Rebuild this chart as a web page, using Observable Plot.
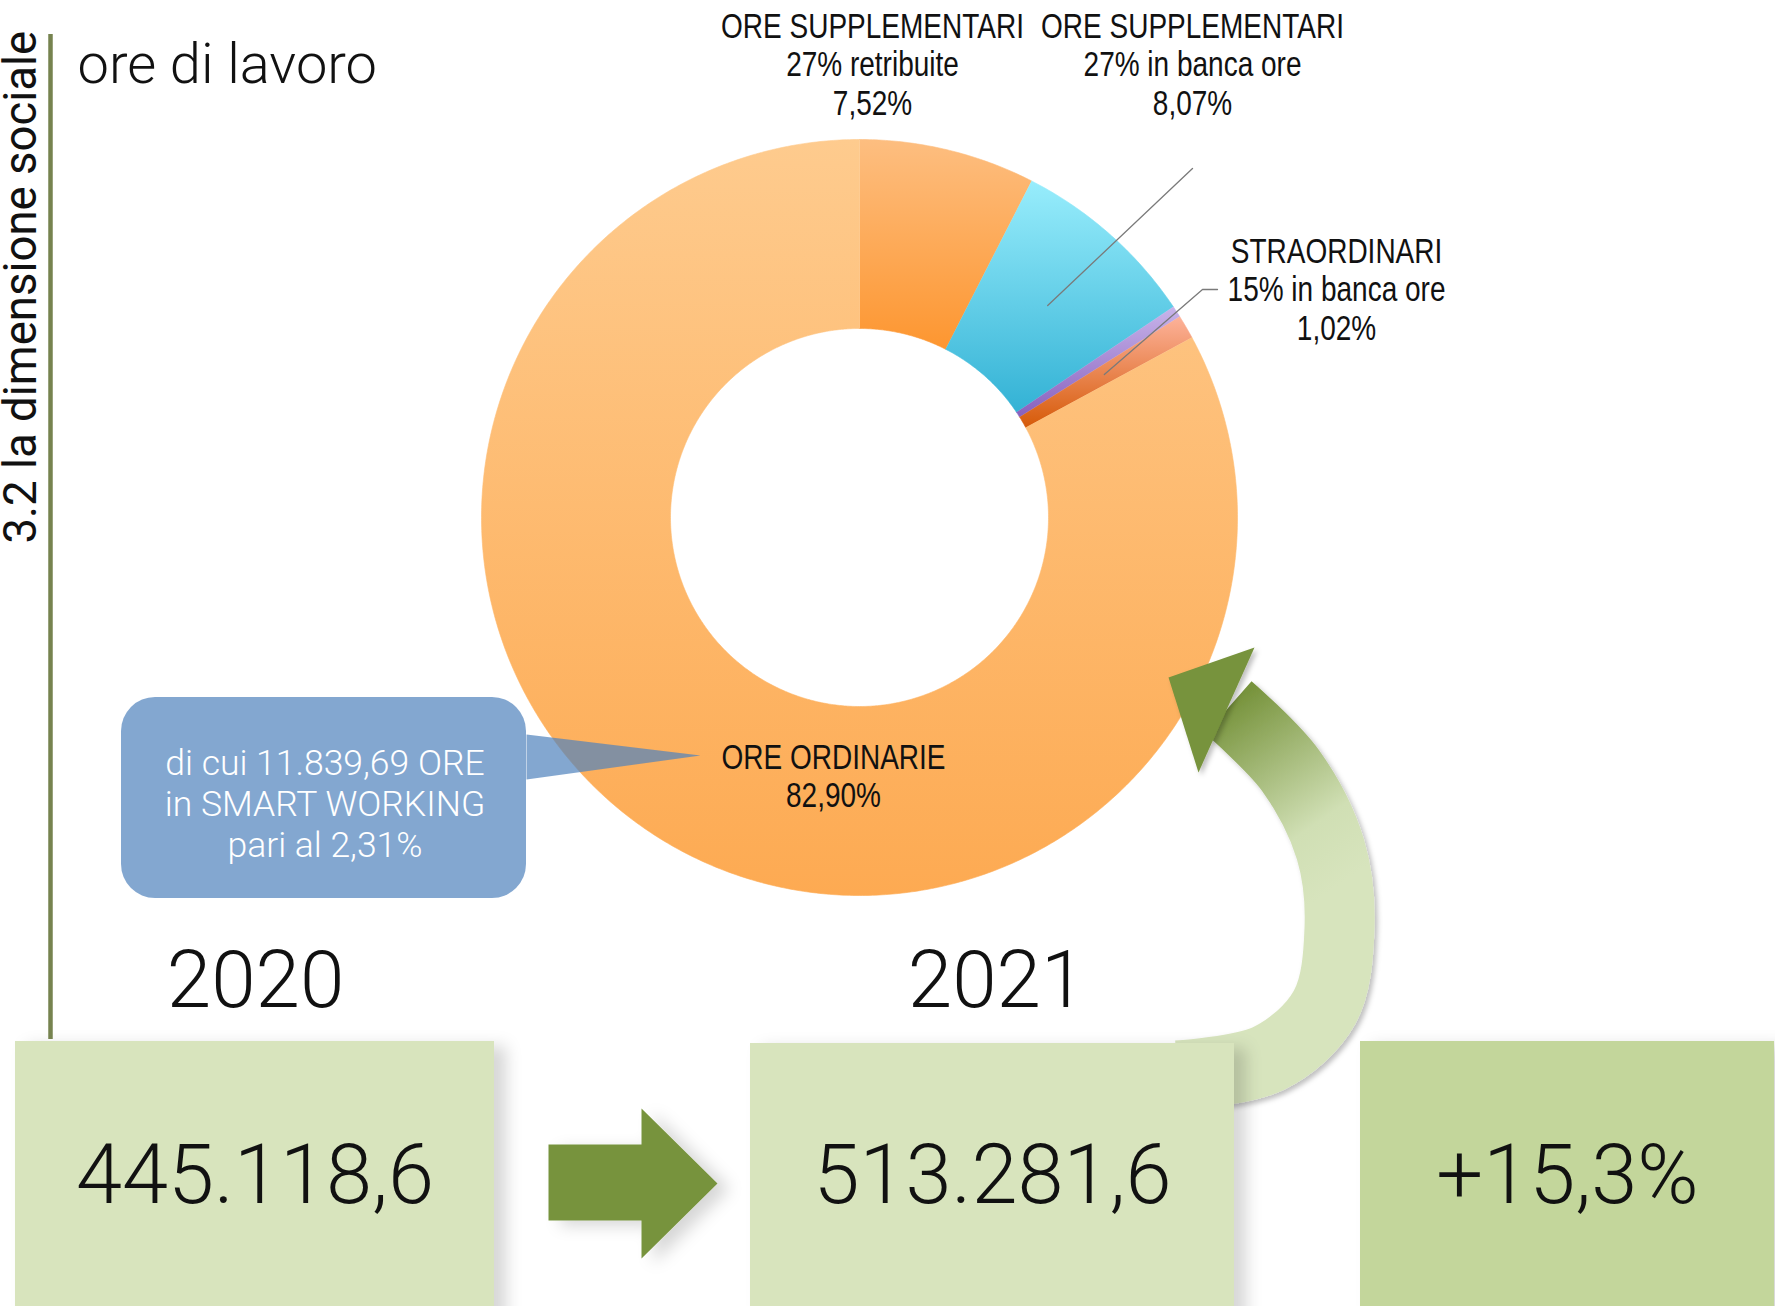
<!DOCTYPE html>
<html><head><meta charset="utf-8">
<script src="https://cdn.jsdelivr.net/npm/d3@7"></script>
<script src="https://cdn.jsdelivr.net/npm/@observablehq/plot@0.6"></script>
<style>
html,body{margin:0;padding:0;background:#fff;overflow:hidden}
#chart svg{display:block}
</style></head><body><div id="chart"></div>
<script>
// ---------------- DATA ----------------
const sectionTitle = "3.2 la dimensione sociale";
const chartTitle = "ore di lavoro";
const sliceTitles = ["ORE SUPPLEMENTARI", "ORE SUPPLEMENTARI", "", "STRAORDINARI", "ORE ORDINARIE"];
const sliceSubtitles = ["27% retribuite", "27% in banca ore", "", "15% in banca ore", ""];
const sliceValues = [7.52, 8.07, 0.49, 1.02, 82.90];
const calloutLines = ["di cui 11.839,69 ORE", "in SMART WORKING", "pari al 2,31%"];
const years = ["2020", "2021"];
const totals = [445118.6, 513281.6];
const changePct = 15.3;

// ---------------- STYLE / LAYOUT ----------------
const W = 1775, H = 1306;
const sliceGradients = [
  ["#FDBE80", "#FD9630"],
  ["#98EDFC", "#33B2D5"],
  ["#C8B4EA", "#8760BE"],
  ["#FDB29A", "#D65A08"],
  ["#FECB8E", "#FDAA52"]
];
const donut = {cx: 859, cy: 517, r0: 189, r1: 378};
const labelPos = {0: {x: 872, y: 10}, 1: {x: 1192, y: 10}, 3: {x: 1336, y: 235}, 4: {x: 833, y: 741}};
const leaderFrom = {1: [[1192, 168]], 3: [[1217, 289], [1202, 289]]};
const boxX = [[15, 494], [750, 1234], [1360, 1774]];
const boxTop = [1041, 1043, 1041];
const boxFill = ["#D8E4BD", "#D8E4BD", "#C3D69B"];
const yearX = [255, 996];
const green = "#77933C";
const sans = "'Liberation Sans', Arial, sans-serif";
const light = "Roboto, 'Helvetica Neue', Lato, sans-serif";

const it = d3.formatLocale({decimal: ",", thousands: ".", grouping: [3], currency: ["€", ""]});
const fmtTot = it.format(",.1f"), fmtPct = it.format(".2f"), fmtCh = it.format(".1f");

// ---------------- GEOMETRY ----------------
const arcs = d3.pie().sort(null).value(d => d)(sliceValues);
function ring(a0, a1, r0, r1) {
  const n = Math.max(2, Math.ceil((a1 - a0) / (Math.PI / 360)));
  const pts = [];
  for (let i = 0; i <= n; i++) { const a = a0 + (a1 - a0) * i / n; pts.push({x: donut.cx + r1 * Math.sin(a), y: donut.cy - r1 * Math.cos(a)}); }
  for (let i = n; i >= 0; i--) { const a = a0 + (a1 - a0) * i / n; pts.push({x: donut.cx + r0 * Math.sin(a), y: donut.cy - r0 * Math.cos(a)}); }
  return pts;
}
const midPoint = (i) => {
  const a = (arcs[i].startAngle + arcs[i].endAngle) / 2, r = (donut.r0 + donut.r1) / 2;
  return [donut.cx + r * Math.sin(a), donut.cy - r * Math.cos(a)];
};

const labels = Object.keys(labelPos).map(k => {
  const i = +k;
  const lines = [sliceTitles[i], sliceSubtitles[i], fmtPct(sliceValues[i]) + "%"].filter(s => s);
  return {x: labelPos[i].x, y: labelPos[i].y, text: lines.join("\n")};
});
const leaders = Object.keys(leaderFrom).flatMap(k => {
  const pts = [...leaderFrom[k], midPoint(+k)];
  return pts.map(p => ({x: p[0], y: p[1], k}));
});

const boxes = boxX.map((b, i) => ({x1: b[0], x2: b[1], y1: boxTop[i], y2: H + 20, fill: boxFill[i],
  cx: (b[0] + b[1]) / 2,
  text: i < 2 ? fmtTot(totals[i]) : "+" + fmtCh(changePct) + "%"}));
const yearLabels = years.map((y, i) => ({x: yearX[i], y: 1006, text: y}));

const blockArrow = [[548,1144],[641,1144],[641,1108],[717,1183],[641,1258],[641,1220],[548,1220]].map(p => ({x: p[0], y: p[1]}));
const curvedShaft = [[1177,1075],[1268,1058],[1324,1007],[1339,928],[1330,849],[1290,770],[1228,707]].map(p => ({x: p[0], y: p[1]}));
const curvedHead = [[1168,677],[1254,647],[1198,772]].map(p => ({x: p[0], y: p[1]}));
const callout = {x1: 121, x2: 526, y1: 697, y2: 898};
const calloutTail = [[526,734],[700,755],[526,779]].map(p => ({x: p[0], y: p[1]}));

// ---------------- PLOT ----------------
const marks = [];
const idx = {};
const add = (name, m) => { idx[name] = marks.length; marks.push(m); };
arcs.forEach((a, i) => {
  add("slice" + i, Plot.line(ring(a.startAngle, a.endAngle, donut.r0, donut.r1), {x: "x", y: "y", fill: `url(#sg${i})`, stroke: `url(#sg${i})`, strokeWidth: 0.6}));
});
add("leaders", Plot.line(leaders, {x: "x", y: "y", z: "k", stroke: "#7a7a7a", strokeWidth: 1.3}));
add("callout", Plot.rect([callout], {x1: "x1", x2: "x2", y1: "y1", y2: "y2", rx: 34, fill: "#5083BD", fillOpacity: 0.71}));
add("tail", Plot.line(calloutTail, {x: "x", y: "y", fill: "#5083BD", fillOpacity: 0.71, stroke: "none"}));
add("shaft", Plot.line(curvedShaft, {x: "x", y: "y", curve: "catmull-rom", stroke: "url(#arrowGrad)", strokeWidth: 70, strokeLinecap: "butt"}));
add("head", Plot.line(curvedHead, {x: "x", y: "y", fill: green, stroke: "none"}));
add("boxes", Plot.rect(boxes, {x1: "x1", x2: "x2", y1: "y1", y2: "y2", fill: "fill"}));
add("block", Plot.line(blockArrow, {x: "x", y: "y", fill: green, stroke: "none"}));
add("rule", Plot.ruleX([50], {y1: 34, y2: 1039, stroke: "#76834F", strokeWidth: 4.5}));
add("section", Plot.text([{x: 35, y: 543, t: sectionTitle}], {x: "x", y: "y", text: "t", rotate: -90, textAnchor: "start", lineAnchor: "bottom", fontSize: 45.5, fontFamily: light, fontWeight: 400, fill: "#111"}));
add("title", Plot.text([{x: 77, y: 82, t: chartTitle}], {x: "x", y: "y", text: "t", textAnchor: "start", lineAnchor: "bottom", fontSize: 56, fontFamily: light, fontWeight: 300, fill: "#111"}));
add("labels", Plot.text(labels, {x: "x", y: "y", text: "text", lineAnchor: "top", lineHeight: 1.1, fontSize: 35, fontFamily: sans, fill: "#111"}));
add("calloutText", Plot.text([{x: (callout.x1 + callout.x2) / 2 + 1, y: 745, t: calloutLines.join("\n")}], {x: "x", y: "y", text: "t", lineAnchor: "top", lineHeight: 1.16, fontSize: 35.5, fontFamily: light, fontWeight: 300, fill: "white"}));
add("years", Plot.text(yearLabels, {x: "x", y: "y", text: "text", lineAnchor: "bottom", fontSize: 80, fontFamily: light, fontWeight: 300, fill: "#111"}));
add("boxText", Plot.text(boxes, {x: "cx", y: () => 1202, text: "text", lineAnchor: "bottom", fontSize: 83, fontFamily: light, fontWeight: 300, fill: "#111"}));

const plot = Plot.plot({
  width: W, height: H, margin: 0,
  x: {domain: [0, W], range: [0, W], axis: null},
  y: {domain: [0, H], range: [0, H], axis: null},
  style: {background: "white", overflow: "visible"},
  marks
});

// gradient + filter defs
const svg = d3.select(plot);
const groups = Array.from(plot.children).filter(n => n.tagName.toLowerCase() === "g");
const G = name => d3.select(groups[idx[name]]);
const defs = svg.insert("defs", ":first-child");
sliceGradients.forEach((g, i) => {
  const lg = defs.append("linearGradient").attr("id", "sg" + i).attr("x1", 0).attr("y1", 0).attr("x2", 0).attr("y2", 1);
  lg.append("stop").attr("offset", 0).attr("stop-color", g[0]);
  lg.append("stop").attr("offset", 1).attr("stop-color", g[1]);
});
const ag = defs.append("linearGradient").attr("id", "arrowGrad").attr("gradientUnits", "userSpaceOnUse")
  .attr("x1", 1345).attr("y1", 880).attr("x2", 1225).attr("y2", 705);
ag.append("stop").attr("offset", 0).attr("stop-color", "#D7E4BD");
ag.append("stop").attr("offset", 0.3).attr("stop-color", "#D0DFB4");
ag.append("stop").attr("offset", 1).attr("stop-color", green);
function shadow(id, dx, dy, blur, op) {
  const f = defs.append("filter").attr("id", id).attr("x", "-20%").attr("y", "-20%").attr("width", "150%").attr("height", "150%");
  f.append("feDropShadow").attr("dx", dx).attr("dy", dy).attr("stdDeviation", blur).attr("flood-color", "#000").attr("flood-opacity", op);
}
shadow("shBox", 12, 5, 8, 0.16);
shadow("shArrow", 3, 3, 2.5, 0.25);
["boxes", "block"].forEach(n => G(n).attr("filter", "url(#shBox)"));
["shaft", "head"].forEach(n => G(n).attr("filter", "url(#shArrow)"));
// condensed label type (Arial Narrow look)
G("labels").selectAll("text").each(function() {
  const t = this.getAttribute("transform");
  if (t) this.setAttribute("transform", t + " scale(0.8,1)");
  else {
    const x = +this.getAttribute("x") || 0, y = +this.getAttribute("y") || 0;
    this.setAttribute("transform", `translate(${x},${y}) scale(0.8,1) translate(${-x},${-y})`);
  }
});

document.getElementById("chart").appendChild(plot);
</script></body></html>
